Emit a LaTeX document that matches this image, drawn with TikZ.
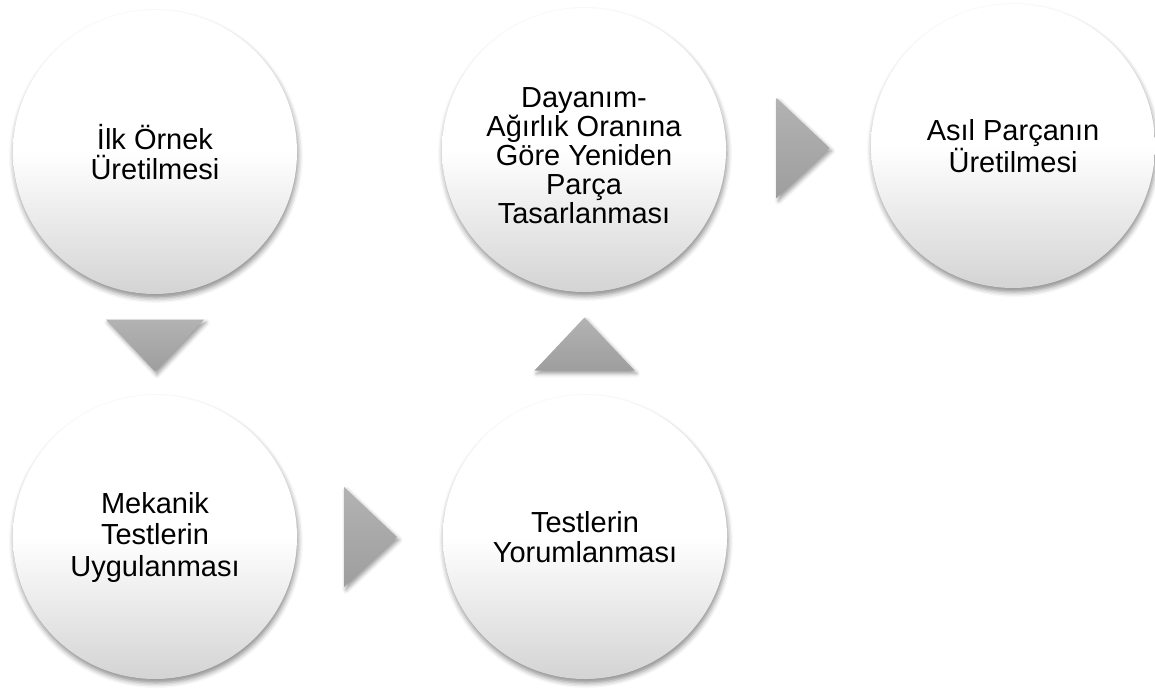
\documentclass[tikz,border=0pt]{standalone}
\usepackage{fontspec}
\setmainfont{Liberation Sans}
\usetikzlibrary{calc,shadows.blur}
\begin{document}
\begin{tikzpicture}[x=1pt,y=-1pt,
  stage/.style={circle, minimum size=284pt, inner sep=0pt, align=center,
    font=\fontsize{29}{30}\selectfont,
    top color=white, bottom color=black!17, middle color=white,
    blur shadow={shadow xshift=1pt, shadow yshift=-4pt, shadow blur radius=5pt, shadow opacity=45}},
  stagetext/.style={align=center, inner sep=0pt, font=\fontsize{29}{29}\selectfont},
  chevron/.style={top color=black!30, bottom color=black!38, draw=none,
    blur shadow={shadow xshift=2pt, shadow yshift=-3pt, shadow blur radius=4pt, shadow opacity=40}}]
\useasboundingbox (0,0) rectangle (1155,688);
\node[stage] (c1) at (155,152) {İlk Örnek\\Üretilmesi};
\node[stage, font=\fontsize{29}{31.5}\selectfont] (c2) at (155,537) {Mekanik\\Testlerin\\Uygulanması};
\node[stage] (c3) at (585,537) {Testlerin\\Yorumlanması};
\node[stage] (c4) at (584,150) {};
\node[stagetext] (t4) at ($(c4)+(0,6)$) {Dayanım-\\Ağırlık Oranına\\Göre Yeniden\\Parça\\Tasarlanması};
\node[stage] (c5) at (1013,146) {Asıl Parçanın\\Üretilmesi};
% arrows between stages
\coordinate (m12) at ($(c1)!0.5!(c2)$);
\coordinate (m23) at ($(c2)!0.5!(c3)$);
\coordinate (m34) at ($(c3)!0.5!(c4)$);
\coordinate (m45) at ($(c4)!0.5!(c5)+(4,0)$);
\path[chevron] ($(m12)+(-49,-25)$) -- ($(m12)+(49,-25)$) -- ($(m12)+(0,27)$) -- cycle;
\path[chevron] ($(m23)+(-26,-50)$) -- ($(m23)+(27,0)$) -- ($(m23)+(-26,50)$) -- cycle;
\path[chevron] ($(m34)+(-50,27)$) -- ($(m34)+(0,-26)$) -- ($(m34)+(50,27)$) -- cycle;
\path[chevron] ($(m45)+(-26,-50)$) -- ($(m45)+(27,0)$) -- ($(m45)+(-26,50)$) -- cycle;
\end{tikzpicture}
\end{document}
